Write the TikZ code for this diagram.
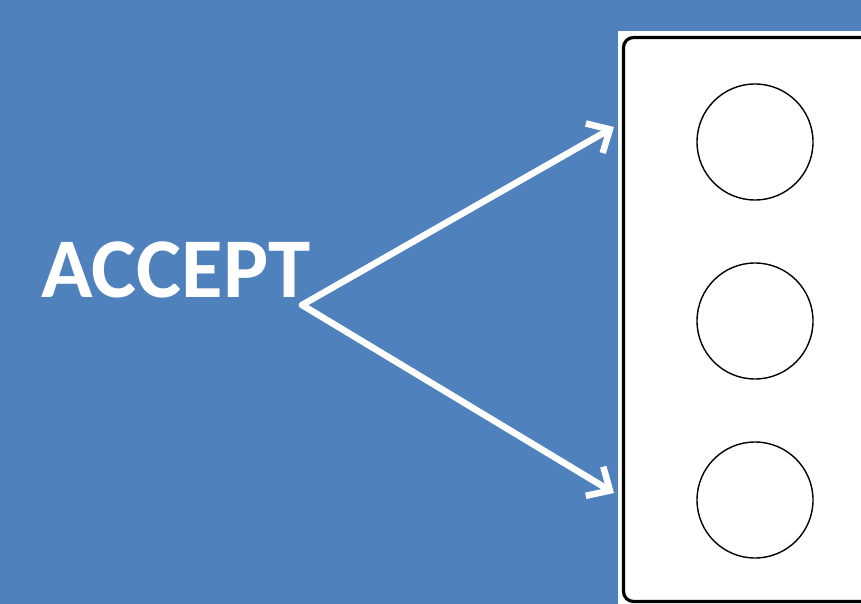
\documentclass[tikz,border=0pt]{standalone}
\usepackage{fontspec}
\setmainfont{Carlito}
\usetikzlibrary{arrows.meta}
\definecolor{bgblue}{HTML}{4F81BD}
\tikzset{
  arr/.style={white, line width=6.5pt, line cap=round, -{Straight Barb[length=18pt,width=34pt,line width=6.5pt]}},
  ring/.style={draw=black, line width=1.4pt, fill=white, circle, minimum size=116pt, inner sep=0pt},
}
\begin{document}
\begin{tikzpicture}[x=1pt,y=-1pt]
\useasboundingbox (0,0) rectangle (861,604);
\fill[bgblue] (0,0) rectangle (861,604);
\fill[white] (618,31) rectangle (861,604);
\draw[black, line width=3.2pt, rounded corners=10pt] (623.5,37.5) -- (623.5,601.5) -- (880,601.5) -- (880,37.5) -- cycle;
\node[anchor=base west, inner sep=0pt, text=white, font=\fontsize{85}{85}\selectfont\bfseries] (t) at (41,297) {ACCEPT};
\coordinate (s) at (302,305);
\coordinate (e1) at (614,127);
\coordinate (e2) at (614,493);
\draw[arr] (s) -- (e1);
\draw[arr] (s) -- (e2);
\node[ring] (c1) at (755,142) {};
\node[ring] (c2) at (755,321) {};
\node[ring] (c3) at (755,500) {};
\end{tikzpicture}
\end{document}
